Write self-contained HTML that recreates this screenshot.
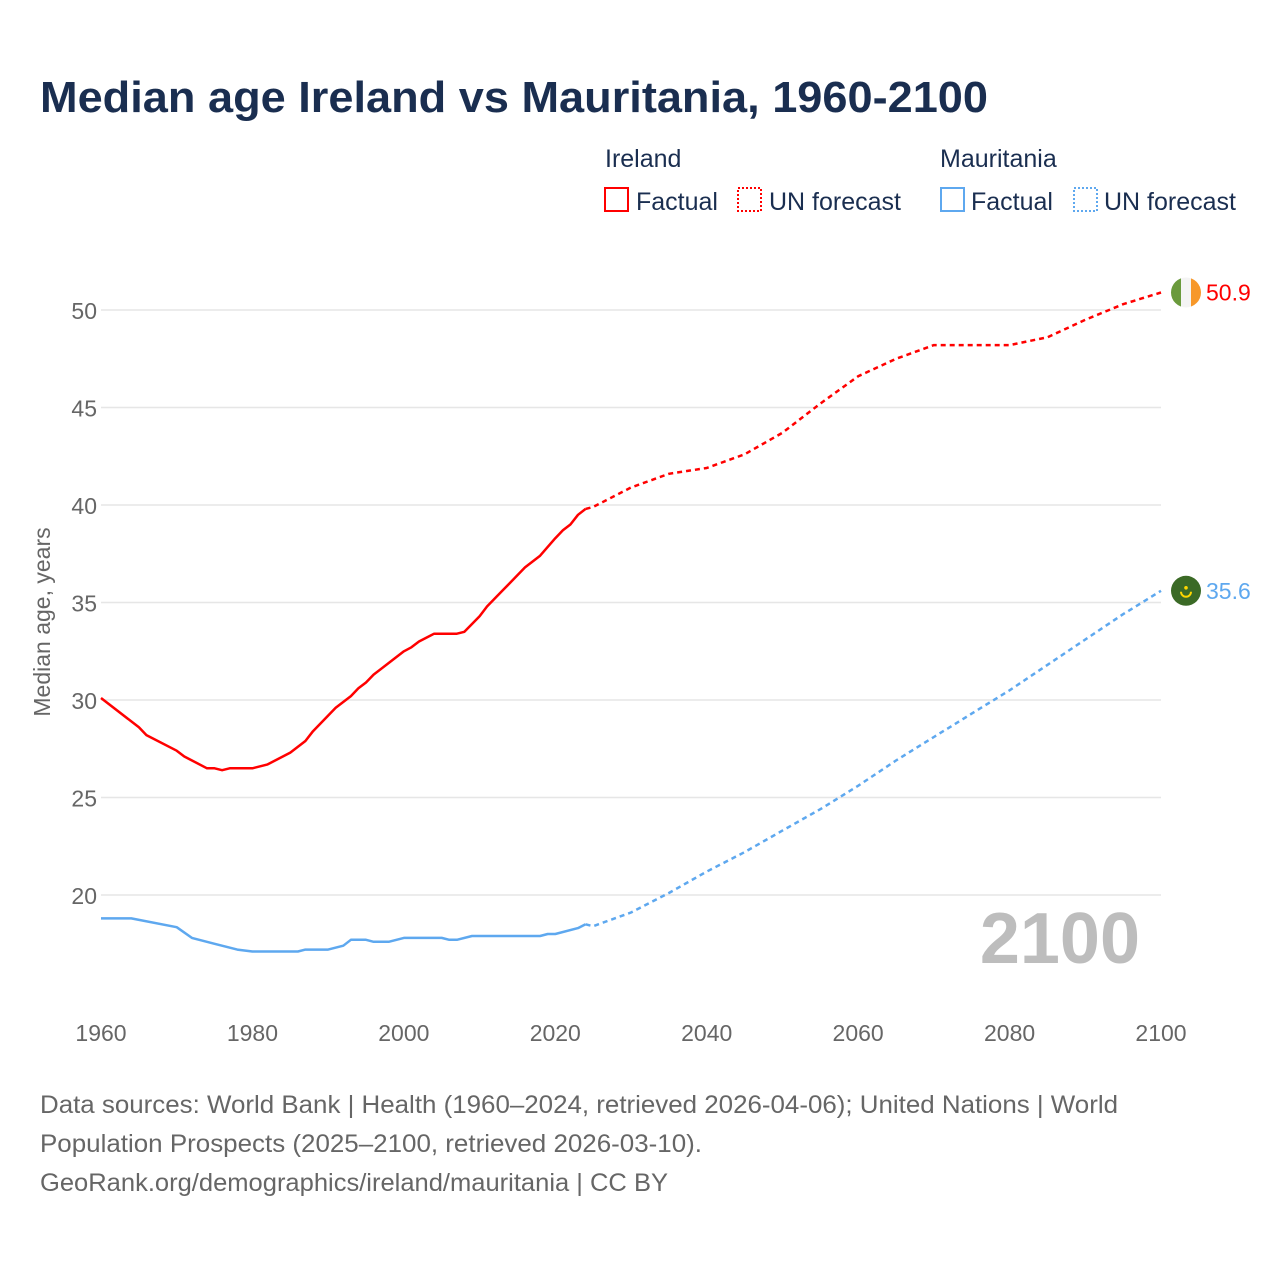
<!DOCTYPE html>
<html><head><meta charset="utf-8">
<style>
body{margin:0;background:#fff;font-family:"Liberation Sans",sans-serif;}
#wrap{position:relative;width:1280px;height:1280px;}
</style></head>
<body><div id="wrap">
<svg id="svg" width="1280" height="1280" xmlns="http://www.w3.org/2000/svg">
<text x="40" y="112" font-size="44" font-weight="bold" fill="#1a2e50" textLength="948" lengthAdjust="spacingAndGlyphs">Median age Ireland vs Mauritania, 1960-2100</text>
<g font-size="25" fill="#1a2e50">
<text x="605" y="167">Ireland</text>
<rect x="605" y="188" width="23" height="23" fill="none" stroke="#ff0000" stroke-width="2"/>
<text x="636" y="210">Factual</text>
<rect x="738" y="188" width="23" height="23" fill="none" stroke="#ff0000" stroke-width="2" stroke-dasharray="2,2"/>
<text x="769" y="210">UN forecast</text>
<text x="940" y="167">Mauritania</text>
<rect x="941" y="188" width="23" height="23" fill="none" stroke="#5ea8ef" stroke-width="2"/>
<text x="971" y="210">Factual</text>
<rect x="1074" y="188" width="23" height="23" fill="none" stroke="#5ea8ef" stroke-width="2" stroke-dasharray="2,2"/>
<text x="1104" y="210">UN forecast</text>
</g>
<g id="grid"></g>
<g id="xt"></g>
<text transform="translate(50,622) rotate(-90)" text-anchor="middle" font-size="23" fill="#666">Median age, years</text>
<text x="1140" y="963" text-anchor="end" font-size="72" font-weight="bold" fill="#bdbdbd">2100</text>
<g id="series"></g>
<g font-size="25" fill="#666">
<text x="40" y="1113" textLength="1078" lengthAdjust="spacingAndGlyphs">Data sources: World Bank | Health (1960–2024, retrieved 2026-04-06); United Nations | World</text>
<text x="40" y="1152" textLength="662" lengthAdjust="spacingAndGlyphs">Population Prospects (2025–2100, retrieved 2026-03-10).</text>
<text x="40" y="1191" textLength="628" lengthAdjust="spacingAndGlyphs">GeoRank.org/demographics/ireland/mauritania | CC BY</text>
</g>
</svg></div>
<script>
const xTicks=[1960,1980,2000,2020,2040,2060,2080,2100];
const yTicks=[20,25,30,35,40,45,50];
const ieFactYears=[1960,1965,1966,1970,1971,1974,1975,1976,1977,1980,1982,1985,1987,1988,1990,1991,1993,1994,1995,1996,1998,2000,2001,2002,2004,2007,2008,2010,2011,2013,2014,2016,2018,2020,2021,2022,2023,2024];
const ieFactVals=[30.1,28.6,28.2,27.4,27.1,26.5,26.5,26.4,26.5,26.5,26.7,27.3,27.9,28.4,29.2,29.6,30.2,30.6,30.9,31.3,31.9,32.5,32.7,33.0,33.4,33.4,33.5,34.3,34.8,35.6,36.0,36.8,37.4,38.3,38.7,39.0,39.5,39.8];
const fcYears=[2024,2025,2030,2035,2040,2045,2050,2055,2060,2065,2070,2075,2080,2085,2090,2095,2100];
const ieFcVals=[39.8,39.9,40.9,41.6,41.9,42.6,43.7,45.2,46.6,47.5,48.2,48.2,48.2,48.6,49.5,50.3,50.9];
const mrFactYears=[1960,1964,1970,1972,1975,1978,1980,1986,1987,1990,1992,1993,1995,1996,1998,2000,2005,2006,2007,2009,2010,2011,2018,2019,2020,2023,2024];
const mrFactVals=[18.8,18.8,18.35,17.8,17.5,17.2,17.1,17.1,17.2,17.2,17.4,17.7,17.7,17.6,17.6,17.8,17.8,17.7,17.7,17.9,17.9,17.9,17.9,18.0,18.0,18.3,18.5];
const mrFcVals=[18.5,18.4,19.1,20.1,21.2,22.2,23.3,24.4,25.6,26.9,28.1,29.3,30.5,31.8,33.1,34.4,35.6];
const NS="http://www.w3.org/2000/svg";
const X=y=>101+(y-1960)*(1060/140);
const Y=v=>310+(50-v)*19.5;
function mk(t,a,p){const e=document.createElementNS(NS,t);for(const k in a)e.setAttribute(k,a[k]);(p||document.getElementById('series')).appendChild(e);return e;}
const grid=document.getElementById('grid');
yTicks.forEach(v=>{
 const l=mk('line',{x1:101,x2:1161,y1:Y(v),y2:Y(v),stroke:'#e6e6e6','stroke-width':1.5},grid);
 
 
 const t=mk('text',{x:97,y:Y(v)+9,'text-anchor':'end','font-size':23,fill:'#666'},grid);
 t.textContent=v;
 
 
});
const xt=document.getElementById('xt');
xTicks.forEach(y=>{
 const t=mk('text',{x:X(y),y:1041,'text-anchor':'middle','font-size':23,fill:'#666'},xt);
 t.textContent=y;
 
 
});
function line(ys,vs,col,dash,name){
 const d=ys.map((y,i)=>(i?'L':'M')+X(y).toFixed(1)+','+Y(vs[i]).toFixed(1)).join('');
 const p=mk('path',{d:d,fill:'none',stroke:col,'stroke-width':2.5,'stroke-linejoin':'round'});
 if(dash)p.setAttribute('stroke-dasharray','5,4');
 
 
}
line(ieFactYears,ieFactVals,'#ff0000',false,'ireland-factual-line');
line(fcYears,ieFcVals,'#ff0000',true,'ireland-forecast-line');
line(mrFactYears,mrFactVals,'#5ea8ef',false,'mauritania-factual-line');
line(fcYears,mrFcVals,'#5ea8ef',true,'mauritania-forecast-line');
const ieEnd=ieFcVals[ieFcVals.length-1], mrEnd=mrFcVals[mrFcVals.length-1];
const cx=1186;
const ie=mk('g',{});


mk('defs',{},ie).innerHTML='<clipPath id="cie"><circle cx="'+cx+'" cy="'+Y(ieEnd)+'" r="15"/></clipPath>';
const gg=mk('g',{'clip-path':'url(#cie)'},ie);
mk('rect',{x:cx-15,y:Y(ieEnd)-15,width:10,height:30,fill:'#6a9a3c'},gg);
mk('rect',{x:cx-5,y:Y(ieEnd)-15,width:10,height:30,fill:'#f4f4f4'},gg);
mk('rect',{x:cx+5,y:Y(ieEnd)-15,width:10,height:30,fill:'#f7982a'},gg);
const tl=mk('text',{x:1206,y:Y(ieEnd)+8,'font-size':23,fill:'#ff0000'});
tl.textContent=ieEnd.toFixed(1);


const mr=mk('g',{});


mk('circle',{cx:cx,cy:Y(mrEnd),r:15,fill:'#3b6a26'},mr);
mk('path',{d:'M'+(cx-5)+','+(Y(mrEnd)+1)+' a5,5 0 0 0 10,0',fill:'none',stroke:'#ffd700','stroke-width':2},mr);
mk('circle',{cx:cx,cy:Y(mrEnd)-3,r:1.8,fill:'#ffd700'},mr);
const tm=mk('text',{x:1206,y:Y(mrEnd)+8,'font-size':23,fill:'#5ea8ef'});
tm.textContent=mrEnd.toFixed(1);


</script>
</body></html>
